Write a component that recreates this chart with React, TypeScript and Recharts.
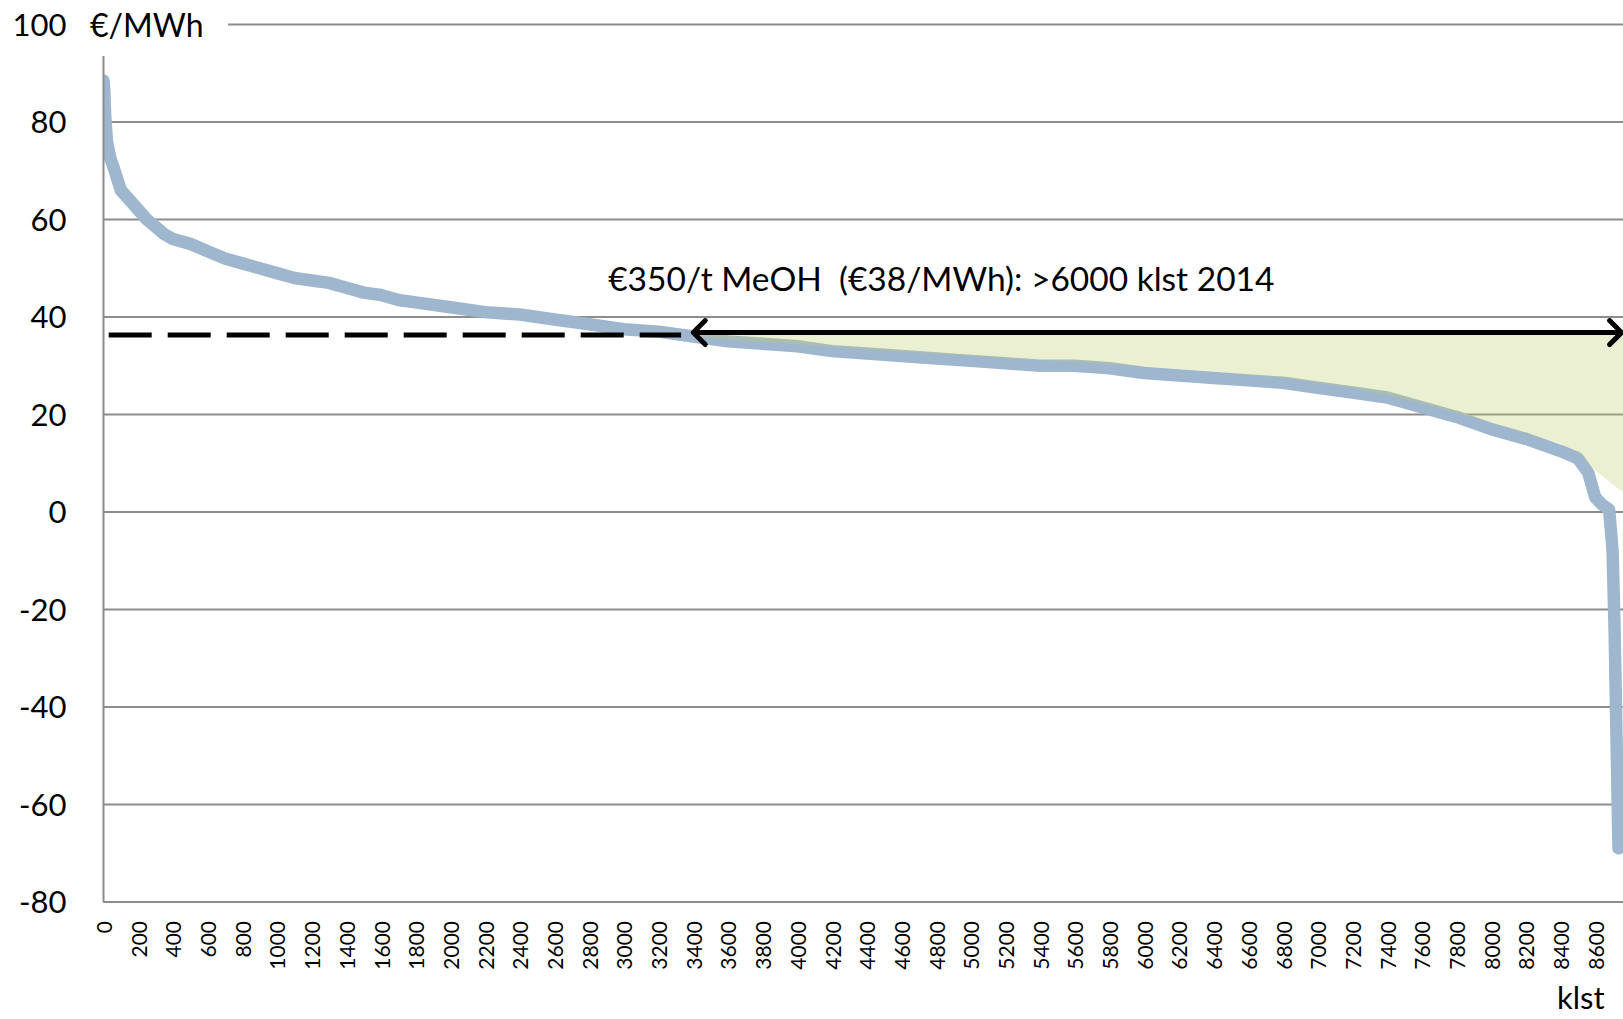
import React from 'react';
import { ComposedChart, Line, Area, XAxis, YAxis, CartesianGrid, ReferenceDot } from 'recharts';

// Price duration curve (hours sorted by price)
const curveHours = [0, 5, 10, 20, 40, 60, 100, 150, 200, 250, 300, 350, 400, 500, 600, 700, 800, 900, 1000, 1100, 1200, 1300, 1400, 1500, 1600, 1700, 1800, 2000, 2200, 2400, 2600, 2800, 3000, 3200, 3400, 3600, 3800, 4000, 4200, 4400, 4600, 4800, 5000, 5200, 5400, 5600, 5800, 6000, 6200, 6400, 6600, 6800, 7000, 7200, 7400, 7600, 7800, 8000, 8200, 8400, 8500, 8560, 8600, 8640, 8680, 8700, 8712, 8722, 8734];
const curvePrices = [88.5, 86, 81, 76, 72.5, 70.5, 66, 64, 62, 60, 58.5, 57, 56, 55, 53.5, 52, 51, 50, 49, 48, 47.5, 47, 46, 45, 44.5, 43.5, 43, 42, 41, 40.5, 39.5, 38.5, 37.5, 37, 36, 35, 34.5, 34, 33, 32.5, 32, 31.5, 31, 30.5, 30, 30, 29.5, 28.5, 28, 27.5, 27, 26.5, 25.5, 24.5, 23.5, 21.5, 19.5, 17, 15, 12.5, 11, 8, 3, 1.5, 0.5, -8, -25, -45, -69];

// Shaded area below the MeOH break-even level
const fillHours = [3400, 3600, 4000, 4400, 4800, 5200, 5600, 6000, 6400, 6800, 7200, 7600, 8000, 8400, 8500, 8600, 8760];
const fillLow = [36, 35.4, 34.4, 33.4, 32.5, 31.5, 30.8, 29.8, 28.8, 27.5, 25.5, 22.3, 18.3, 14, 12.3, 8.5, 4];
const fillTop = 36.6;

// Break-even level markers
const dashHours = [30, 3330];
const dashLevel = 36.3;
const arrowHours = [3400, 8752];
const arrowLevel = 36.8;

const xTicks = [0, 200, 400, 600, 800, 1000, 1200, 1400, 1600, 1800, 2000, 2200, 2400, 2600, 2800, 3000, 3200, 3400, 3600, 3800, 4000, 4200, 4400, 4600, 4800, 5000, 5200, 5400, 5600, 5800, 6000, 6200, 6400, 6600, 6800, 7000, 7200, 7400, 7600, 7800, 8000, 8200, 8400, 8600];
const yTicks = [-80, -60, -40, -20, 0, 20, 40, 60, 80, 100];

const annotation = '€350/t MeOH\u00A0 (€38/MWh): >6000 klst 2014';

const curveData = curveHours.map((h, i) => ({ h, v: curvePrices[i] }));
const fillData = fillHours.map((h, i) => ({ h, range: [fillLow[i], fillTop] }));
const dashData = dashHours.map((h) => ({ h, v: dashLevel }));
const arrowData = arrowHours.map((h) => ({ h, v: arrowLevel }));

const FONT = 'Lato, "Noto Sans", sans-serif';

const XTick = (props: any) => {
  const { x, y, payload } = props;
  return (
    <g transform={`translate(${x},${y})`}>
      <text transform="rotate(-90)" textAnchor="end" dominantBaseline="central" fontSize={21} fontFamily={FONT} fill="#000">
        {payload.value}
      </text>
    </g>
  );
};

const ArrowHead = (props: any) => {
  const { cx, cy, index } = props;
  if (cx == null || cy == null) return null;
  const s = 12;
  const d = index === 0
    ? `M ${cx + s} ${cy - s} L ${cx} ${cy} L ${cx + s} ${cy + s}`
    : `M ${cx - s} ${cy - s} L ${cx} ${cy} L ${cx - s} ${cy + s}`;
  return <path key={`ah-${index}`} d={d} stroke="#000" strokeWidth={5} fill="none" strokeLinecap="round" strokeLinejoin="round" />;
};

export default function App() {
  return (
    <div style={{ position: 'fixed', left: 0, top: 0, width: 1623, height: 1019, background: '#fff', overflow: 'hidden' }}>
      <ComposedChart width={1623} height={1019} margin={{ top: 24.5, right: 0, bottom: 0, left: 0 }}>
        <CartesianGrid vertical={false} stroke="#8c8c8c" strokeWidth={2} />
        <XAxis
          type="number"
          dataKey="h"
          domain={[0, 8760]}
          ticks={xTicks}
          interval={0}
          height={117}
          tickSize={0}
          tickMargin={19}
          tick={<XTick />}
          axisLine={{ stroke: '#8c8c8c', strokeWidth: 2 }}
          tickLine={false}
          allowDataOverflow
        />
        <YAxis
          type="number"
          domain={[-80, 100]}
          ticks={yTicks}
          interval={0}
          width={103.5}
          tickSize={0}
          tickMargin={37}
          tick={{ fontSize: 31, fontFamily: FONT, fill: '#000' }}
          axisLine={{ stroke: '#8c8c8c', strokeWidth: 2 }}
          tickLine={false}
          allowDataOverflow
        />
        <Area data={curveData} dataKey="v" type="linear" stroke="#9fb6cf" strokeWidth={12.5} fill="none" dot={false} activeDot={false} isAnimationActive={false} strokeLinejoin="round" strokeLinecap="round" />
        <Area data={fillData} dataKey="range" type="linear" stroke="none" fill="rgb(194,207,110)" fillOpacity={0.31} activeDot={false} isAnimationActive={false} />
        <Line data={dashData} dataKey="v" type="linear" stroke="#000" strokeWidth={5} strokeDasharray="43 16" dot={false} activeDot={false} isAnimationActive={false} />
        <Line data={arrowData} dataKey="v" type="linear" stroke="#000" strokeWidth={5} dot={<ArrowHead />} activeDot={false} isAnimationActive={false} />
        <ReferenceDot x={4830} y={47.7} r={0} stroke="none" fill="none" label={{ value: annotation, position: 'center', fontSize: 33.5, fontFamily: FONT, fill: '#000' }} />
      </ComposedChart>
      <div style={{ position: 'absolute', left: 84, top: 0, width: 144, height: 56, background: '#fff', fontFamily: FONT, fontSize: 32, lineHeight: '50px', paddingLeft: 6, boxSizing: 'border-box', color: '#000' }}>
        €/MWh
      </div>
      <div style={{ position: 'absolute', left: 1557, top: 981, fontFamily: FONT, fontSize: 31, lineHeight: '32px', color: '#000' }}>
        klst
      </div>
    </div>
  );
}
